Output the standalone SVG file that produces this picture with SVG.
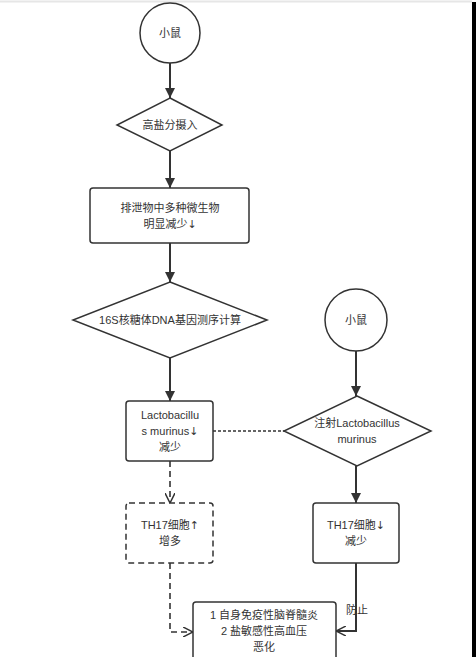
<svg xmlns="http://www.w3.org/2000/svg" width="476" height="657" viewBox="0 0 476 657">
<defs>
<style>
.n{fill:#fff;stroke:#333;stroke-width:1.5}
.d{fill:#fff;stroke:#333;stroke-width:1.5;stroke-dasharray:6,4}
.t{font-family:"Liberation Sans","Noto Sans CJK SC",sans-serif;font-size:11px;fill:#333;text-anchor:middle}
.ar{font-family:"DejaVu Sans",sans-serif;fill:#333}
.c{fill:none;stroke:#333;stroke-width:2}
.cd{fill:none;stroke:#333;stroke-width:1.6;stroke-dasharray:6,4}
.co{fill:none;stroke:#333;stroke-width:1.6;stroke-dasharray:3,2}
</style>
<marker id="a" viewBox="0 0 10 10" refX="10" refY="5" markerWidth="10" markerHeight="10" markerUnits="userSpaceOnUse" orient="auto"><path d="M0,0 L10,5 L0,10 z" fill="#333"/></marker>
<marker id="o" viewBox="0 0 10 10" refX="10" refY="5" markerWidth="10" markerHeight="10" markerUnits="userSpaceOnUse" orient="auto"><path d="M0,0 L10,5 L0,10" fill="none" stroke="#333" stroke-width="1.5"/></marker>
</defs>
<rect x="0" y="0" width="476" height="657" fill="#fff"/>
<line x1="0" y1="1.5" x2="472" y2="1.5" stroke="#e6e6e6" stroke-width="2"/>
<rect x="472" y="2" width="4" height="655" fill="#000"/>
<g id="connectors">
<line class="c" x1="170" y1="63" x2="170" y2="98" marker-end="url(#a)"/>
<line class="c" x1="170" y1="151" x2="170" y2="188" marker-end="url(#a)"/>
<line class="c" x1="170" y1="243" x2="170" y2="282" marker-end="url(#a)"/>
<line class="c" x1="170" y1="358" x2="170" y2="401" marker-end="url(#a)"/>
<line class="co" x1="213" y1="431" x2="284" y2="431"/>
<line class="c" x1="356" y1="351" x2="356" y2="396" marker-end="url(#a)"/>
<line class="c" x1="356" y1="466" x2="356" y2="503" marker-end="url(#a)"/>
<line class="cd" x1="170" y1="461" x2="170" y2="503" marker-end="url(#o)"/>
<polyline class="cd" points="170,563 170,632 193,632" marker-end="url(#o)"/>
<polyline class="c" points="356,563 356,631 336,631" marker-end="url(#o)"/>
<text class="t" x="357" y="614">防止</text>
</g>
<g id="mouse1"><circle class="n" cx="170" cy="33" r="30"/><text class="t" x="170" y="37">小鼠</text></g>
<g id="salt"><polygon class="n" points="170,98 222,125 170,151 117,125"/><text class="t" x="170" y="129">高盐分摄入</text></g>
<g id="excreta"><rect class="n" x="90" y="188" width="159" height="55" rx="3"/><text class="t" x="170" y="212">排泄物中多种微生物</text><text class="t" x="170" y="228">明显减少<tspan class="ar">↓</tspan></text></g>
<g id="seq"><polygon class="n" points="170,282 267,320 170,358 73,320"/><text class="t" x="170" y="324">16S核糖体DNA基因测序计算</text></g>
<g id="lacto"><rect class="n" x="126" y="401" width="87" height="60" rx="3"/><text class="t" x="170" y="419">Lactobacillu</text><text class="t" x="170" y="435">s murinus<tspan class="ar">↓</tspan></text><text class="t" x="170" y="451">减少</text></g>
<g id="mouse2"><circle class="n" cx="356" cy="320" r="31"/><text class="t" x="356" y="324">小鼠</text></g>
<g id="inject"><polygon class="n" points="357,396 431,431 357,466 284,431"/><text class="t" x="357" y="427">注射Lactobacillus</text><text class="t" x="357" y="443">murinus</text></g>
<g id="th17up"><rect class="d" x="126" y="503" width="87" height="60" rx="3"/><text class="t" x="170" y="529">TH17细胞<tspan class="ar">↑</tspan></text><text class="t" x="170" y="545">增多</text></g>
<g id="th17down"><rect class="n" x="313" y="503" width="86" height="60" rx="3"/><text class="t" x="356" y="529">TH17细胞<tspan class="ar">↓</tspan></text><text class="t" x="356" y="545">减少</text></g>
<g id="outcome"><rect class="n" x="193" y="602" width="143" height="70" rx="3"/><text class="t" x="264" y="619">1 自身免疫性脑脊髓炎</text><text class="t" x="264" y="635">2 盐敏感性高血压</text><text class="t" x="264" y="651">恶化</text></g>
</svg>
